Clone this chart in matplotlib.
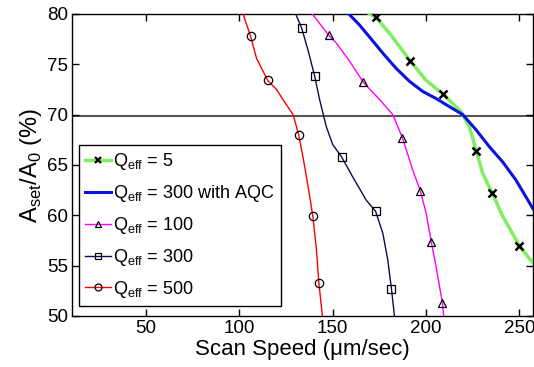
import matplotlib
matplotlib.use("Agg")
import matplotlib.pyplot as plt
from matplotlib.lines import Line2D

plt.rcParams['font.family'] = ['Liberation Sans', 'DejaVu Sans']
plt.rcParams['mathtext.fontset'] = 'custom'
plt.rcParams['mathtext.rm'] = 'Liberation Sans'

# Q_eff = 5 (green, x markers)
q5_line_x = [169.8, 173.0, 180.4, 191.7, 200.1, 209.3, 218.8, 223.2, 227.0, 230.3, 235.5, 241.1, 250.0, 257.5]
q5_line_y = [80.0, 79.7, 78.1, 75.3, 73.4, 72.0, 70.3, 68.8, 66.4, 64.2, 62.2, 59.9, 57.0, 55.2]
q5_mark_x = [173.0, 191.7, 209.3, 227.0, 235.5, 250.0]
q5_mark_y = [79.7, 75.3, 72.0, 66.4, 62.2, 57.0]

# Q_eff = 300 with AQC (blue)
aqc_x = [158.7, 164.4, 169.8, 176.9, 184.0, 191.2, 198.3, 205.4, 212.5, 219.7, 226.8, 234.0, 241.1, 248.2, 257.5]
aqc_y = [80.0, 78.9, 77.7, 76.1, 74.6, 73.3, 72.3, 71.6, 70.8, 70.0, 68.5, 66.8, 65.3, 63.5, 60.6]

# Q_eff = 100 (magenta, triangles)
q100_line_x = [139.1, 147.8, 152.0, 159.1, 166.5, 175.1, 182.2, 187.4, 192.9, 197.0, 200.1, 202.9, 205.4, 208.8, 209.5]
q100_line_y = [80.0, 77.9, 77.1, 75.3, 73.2, 71.5, 70.0, 67.7, 64.5, 62.4, 60.2, 57.3, 54.9, 51.3, 50.0]
q100_mark_x = [147.8, 166.5, 187.4, 197.0, 202.9, 208.8]
q100_mark_y = [77.9, 73.2, 67.7, 62.4, 57.3, 51.3]

# Q_eff = 300 (navy, squares)
q300_line_x = [130.2, 133.4, 136.8, 140.4, 143.0, 146.6, 150.1, 154.8, 160.8, 168.0, 173.0, 176.9, 179.5, 181.5, 183.1]
q300_line_y = [80.0, 78.6, 76.4, 73.8, 71.5, 68.8, 67.0, 65.8, 63.8, 61.5, 60.4, 58.2, 55.6, 52.7, 50.0]
q300_mark_x = [133.4, 140.4, 154.8, 173.0, 181.5]
q300_mark_y = [78.6, 73.8, 65.8, 60.4, 52.7]

# Q_eff = 500 (red, circles)
q500_line_x = [102.0, 106.0, 109.2, 115.2, 119.9, 123.4, 128.8, 131.8, 134.1, 136.8, 139.4, 141.3, 142.6, 144.5]
q500_line_y = [80.0, 77.8, 75.6, 73.4, 72.5, 71.5, 70.0, 68.0, 65.8, 62.9, 59.9, 56.6, 53.3, 50.0]
q500_mark_x = [106.0, 115.2, 131.8, 139.4, 142.6]
q500_mark_y = [77.8, 73.4, 68.0, 59.9, 53.3]

threshold = 69.9

fig = plt.figure(figsize=(5.34, 3.67), dpi=100)
ax = fig.add_axes([0.135, 0.139, 0.863, 0.823])

ax.axhline(threshold, color='#555555', lw=1.5, zorder=1)

ax.plot(q5_line_x, q5_line_y, color='#80ee60', lw=2.5, zorder=3)
ax.plot(q5_mark_x, q5_mark_y, ls='none', marker='x', color='black', ms=6, mew=1.8, zorder=5)
ax.plot(aqc_x, aqc_y, color='#0a14e0', lw=2.2, zorder=3)
ax.plot(q100_line_x, q100_line_y, color='#ff00ff', lw=1.0, zorder=3)
ax.plot(q100_mark_x, q100_mark_y, ls='none', marker='^', mfc='none', mec='black', ms=6, mew=0.9, zorder=5)
ax.plot(q300_line_x, q300_line_y, color='#0a0a55', lw=1.0, zorder=3)
ax.plot(q300_mark_x, q300_mark_y, ls='none', marker='s', mfc='none', mec='black', ms=6, mew=0.9, zorder=5)
ax.plot(q500_line_x, q500_line_y, color='#ff0000', lw=1.0, zorder=3)
ax.plot(q500_mark_x, q500_mark_y, ls='none', marker='o', mfc='none', mec='black', ms=6, mew=0.9, zorder=5)

handles = [
    Line2D([], [], color='#80ee60', lw=2.5, marker='x', mec='black', ms=5, mew=1.6),
    Line2D([], [], color='#0a14e0', lw=2.2),
    Line2D([], [], color='#ff00ff', lw=1.0, marker='^', mfc='none', mec='black', ms=5, mew=0.9),
    Line2D([], [], color='#0a0a55', lw=1.0, marker='s', mfc='none', mec='black', ms=5, mew=0.9),
    Line2D([], [], color='#ff0000', lw=1.0, marker='o', mfc='none', mec='black', ms=5, mew=0.9),
]
labels = ['Q$_{\\mathrm{eff}}$ = 5', 'Q$_{\\mathrm{eff}}$ = 300 with AQC', 'Q$_{\\mathrm{eff}}$ = 100',
          'Q$_{\\mathrm{eff}}$ = 300', 'Q$_{\\mathrm{eff}}$ = 500']
leg = ax.legend(handles, labels, loc='lower left', bbox_to_anchor=(0.015, 0.033), fontsize=13,
                frameon=True, fancybox=False, edgecolor='black', framealpha=1,
                handlelength=1.4, handletextpad=0.15, borderaxespad=0, labelspacing=0.6,
                borderpad=0.35)
leg.get_frame().set_linewidth(1.0)

ax.set_xlim(10.4, 257.3)
ax.set_ylim(50, 80)
ax.set_xticks([50, 100, 150, 200, 250])
ax.set_yticks([50, 55, 60, 65, 70, 75, 80])
ax.tick_params(direction='in', top=True, right=True, labelsize=13.5, length=5, width=1, pad=3)
for s in ax.spines.values():
    s.set_linewidth(1.0)

ax.set_xlabel('Scan Speed (\u03bcm/sec)', fontsize=16, labelpad=1)
ax.set_ylabel('A$_{\\mathrm{set}}$/A$_{\\mathrm{0}}$ (%)', fontsize=17, labelpad=2)

fig.savefig('out.png', dpi=100)
